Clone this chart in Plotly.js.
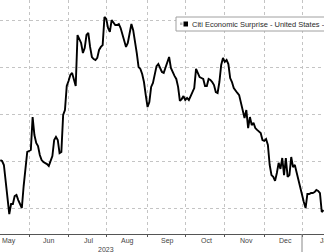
<!DOCTYPE html>
<html>
<head>
<meta charset="utf-8">
<script src="https://cdn.plot.ly/plotly-3.0.1.min.js"></script>
<style>
  html, body { margin: 0; padding: 0; background: #ffffff; }
  #chart { width: 324px; height: 252px; }
</style>
</head>
<body>
<div id="chart"></div>
<script>
// Business-day dates (weekdays) and Citi Economic Surprise Index - United States values
const dates = [
  "2023-05-10","2023-05-11","2023-05-12","2023-05-15","2023-05-16","2023-05-17","2023-05-18","2023-05-19",
  "2023-05-22","2023-05-23","2023-05-24","2023-05-25","2023-05-26","2023-05-29","2023-05-30","2023-05-31",
  "2023-06-01","2023-06-02","2023-06-05","2023-06-06","2023-06-07","2023-06-08","2023-06-09","2023-06-12",
  "2023-06-13","2023-06-14","2023-06-15","2023-06-16","2023-06-19","2023-06-20","2023-06-21","2023-06-22",
  "2023-06-23","2023-06-26","2023-06-27","2023-06-28","2023-06-29","2023-06-30",
  "2023-07-03","2023-07-04","2023-07-05","2023-07-06","2023-07-07","2023-07-10","2023-07-11","2023-07-12",
  "2023-07-13","2023-07-14","2023-07-17","2023-07-18","2023-07-19","2023-07-20","2023-07-21","2023-07-24",
  "2023-07-25","2023-07-26","2023-07-27","2023-07-28","2023-07-31",
  "2023-08-01","2023-08-02","2023-08-03","2023-08-04","2023-08-07","2023-08-08","2023-08-09","2023-08-10",
  "2023-08-11","2023-08-14","2023-08-15","2023-08-16","2023-08-17","2023-08-18","2023-08-21","2023-08-22",
  "2023-08-23","2023-08-24","2023-08-25","2023-08-28","2023-08-29","2023-08-30","2023-08-31",
  "2023-09-01","2023-09-04","2023-09-05","2023-09-06","2023-09-07","2023-09-08","2023-09-11","2023-09-12",
  "2023-09-13","2023-09-14","2023-09-15","2023-09-18","2023-09-19","2023-09-20","2023-09-21","2023-09-22",
  "2023-09-25","2023-09-26","2023-09-27","2023-09-28","2023-09-29",
  "2023-10-02","2023-10-03","2023-10-04","2023-10-05","2023-10-06","2023-10-09","2023-10-10","2023-10-11",
  "2023-10-12","2023-10-13","2023-10-16","2023-10-17","2023-10-18","2023-10-19","2023-10-20","2023-10-23",
  "2023-10-24","2023-10-25","2023-10-26","2023-10-27","2023-10-30","2023-10-31",
  "2023-11-01","2023-11-02","2023-11-03","2023-11-06","2023-11-07","2023-11-08","2023-11-09","2023-11-10",
  "2023-11-13","2023-11-14","2023-11-15","2023-11-16","2023-11-17","2023-11-20","2023-11-21","2023-11-22",
  "2023-11-23","2023-11-24","2023-11-27","2023-11-28","2023-11-29","2023-11-30",
  "2023-12-01","2023-12-04","2023-12-05","2023-12-06","2023-12-07","2023-12-08","2023-12-11","2023-12-12",
  "2023-12-13","2023-12-14","2023-12-15","2023-12-18","2023-12-19","2023-12-20","2023-12-21","2023-12-22",
  "2023-12-25","2023-12-26","2023-12-27","2023-12-28","2023-12-29",
  "2024-01-01","2024-01-02","2024-01-03","2024-01-04","2024-01-05","2024-01-08","2024-01-09","2024-01-10",
  "2024-01-11","2024-01-12","2024-01-15","2024-01-16","2024-01-17"
];

const surprise = [
  20.5, 20.1, 18.4, 12.0, 5.6, -2.6, 1.7, 1.7,
  5.1, 5.6, 3.4, 1.3, 0.0, 9.4, 18.4, 24.0,
  24.4, 24.8, 38.9, 31.2, 27.8, 26.5, 22.7, 20.5,
  19.7, 19.3, 18.8, 18.0, 20.5, 22.2, 29.1, 30.4,
  29.1, 23.5, 24.0, 39.8, 41.9, 52.2,
  54.3, 56.9, 57.8, 54.8, 52.2, 74.0, 71.9, 70.6,
  66.3, 68.4, 74.0, 74.9, 68.9, 64.6, 63.7, 63.3,
  64.2, 67.6, 68.9, 69.7, 81.7,
  80.9, 77.0, 75.3, 80.4, 79.1, 78.3, 78.3, 78.7,
  77.0, 74.0, 71.9, 68.9, 70.6, 75.3, 78.7, 76.1,
  71.9, 66.3, 60.3, 59.5, 57.3, 53.9, 48.3,
  43.2, 45.3, 51.8, 53.5, 56.5, 60.7, 61.6, 59.9,
  58.2, 57.8, 60.3, 62.0, 64.6, 59.9, 57.8, 56.5,
  55.2, 51.8, 45.8, 46.6, 47.9,
  46.2, 47.1, 46.2, 47.9, 49.6, 51.3, 59.5, 57.8,
  56.0, 55.6, 55.2, 52.2, 52.2, 55.2, 54.8, 53.9,
  52.6, 49.6, 49.2, 53.9, 61.2, 64.2,
  62.5, 63.3, 61.6, 55.6, 53.9, 51.3, 50.1, 49.2,
  48.3, 45.3, 42.4, 38.5, 41.9, 34.2, 38.9, 35.5,
  36.4, 34.2, 33.4, 32.9, 32.1, 29.1,
  28.7, 29.5, 27.0, 18.4, 14.1, 13.3, 11.6, 15.0,
  19.3, 16.7, 21.4, 14.1, 21.4, 13.3, 14.1, 21.8,
  17.5, 18.4, 15.0, 12.8, 9.4,
  5.6, 2.6, 0.0, 6.0, 6.0, 6.4, 6.4, 6.8,
  7.7, 7.3, 6.4, -1.7, -0.9
];

// Month boundary ticks (first business day) and month labels
const monthStarts = ["2023-06-01","2023-07-03","2023-08-01","2023-09-01","2023-10-02","2023-11-01","2023-12-01","2024-01-01"];
const monthLabelDates = ["2023-05-17","2023-06-16","2023-07-18","2023-08-17","2023-09-18","2023-10-18","2023-11-17","2023-12-19","2024-01-17"];
const monthLabels = ["May","Jun","Jul","Aug","Sep","Oct","Nov","Dec","Jan"];
const yearLabel = "2023";
const yearLabelDate = "2023-08-01";
const seriesName = "Citi Economic Surprise - United States -";

const FONT = "'Liberation Sans', Arial, sans-serif";
const W = 324, H = 252, B = 18, PH = H - B;
const px = v => v / W;
const py = v => 1 - v / PH;

const annotations = monthLabels.map((t, i) => ({
  text: t, x: monthLabelDates[i], xref: "x", y: py(240.8), yref: "paper",
  xanchor: "center", yanchor: "middle", showarrow: false,
  xshift: i === monthLabels.length - 1 ? 2 : 0,
  font: { family: FONT, size: 7, color: "#444" }
}));
annotations.push({
  text: yearLabel, x: yearLabelDate, xref: "x", y: py(249.5), yref: "paper",
  xanchor: "center", yanchor: "middle", showarrow: false,
  font: { family: FONT, size: 7, color: "#444" }
});
annotations.push({
  text: seriesName, x: px(190), xref: "paper", y: py(24.3), yref: "paper",
  xanchor: "left", yanchor: "middle", showarrow: false,
  font: { family: FONT, size: 7.5, color: "#2a2a2a" }
});

const shapes = [
  { type: "rect", xref: "paper", yref: "paper", x0: px(176), x1: px(340), y0: py(31), y1: py(17),
    line: { color: "#a0a0a0", width: 1 }, fillcolor: "#ffffff", layer: "above" },
  { type: "rect", xref: "paper", yref: "paper", x0: px(180), x1: px(182.5), y0: py(25), y1: py(22.5),
    line: { width: 0 }, fillcolor: "#b8b8b8", layer: "above" },
  { type: "rect", xref: "paper", yref: "paper", x0: px(183.5), x1: px(188), y0: py(26.5), y1: py(21.5),
    line: { width: 0 }, fillcolor: "#000000", layer: "above" },
  { type: "line", xref: "x", yref: "paper", x0: monthStarts[monthStarts.length - 1], x1: monthStarts[monthStarts.length - 1],
    y0: 0, y1: py(252), line: { color: "#888", width: 1 } }
];

const trace = {
  x: dates, y: surprise, type: "scatter", mode: "lines",
  line: { color: "#000000", width: 1.9 }, hoverinfo: "skip", showlegend: false
};

const layout = {
  width: W, height: H,
  margin: { l: 0, r: 0, t: 0, b: B, pad: 0 },
  paper_bgcolor: "#ffffff", plot_bgcolor: "#ffffff",
  showlegend: false,
  xaxis: {
    type: "date",
    range: ["2023-05-09 20:00", "2024-01-17 06:00"],
    rangebreaks: [{ bounds: ["sat", "mon"] }],
    tickmode: "array", tickvals: monthStarts, showticklabels: false,
    ticks: "outside", ticklen: 2, tickcolor: "#555", tickwidth: 1,
    showgrid: true, gridcolor: "#c4c4c4", griddash: "dot", gridwidth: 1,
    showline: true, linecolor: "#555", linewidth: 1,
    zeroline: false, fixedrange: true
  },
  yaxis: {
    range: [-11.12, 88.98],
    tickmode: "linear", tick0: 0, dtick: 20,
    showticklabels: false, ticks: "",
    showgrid: true, gridcolor: "#c4c4c4", griddash: "dot", gridwidth: 1,
    zeroline: false, showline: false, fixedrange: true
  },
  annotations: annotations,
  shapes: shapes
};

Plotly.newPlot("chart", [trace], layout, { staticPlot: true, displayModeBar: false });
</script>
</body>
</html>
